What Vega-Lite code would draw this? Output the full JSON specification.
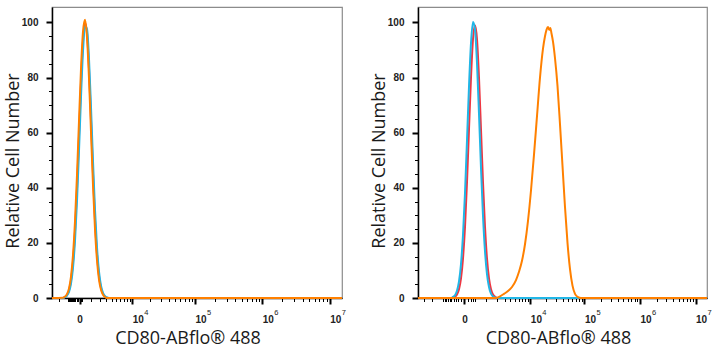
{
  "$schema": "https://vega.github.io/schema/vega-lite/v6.json",
  "background": "white",
  "padding": {"left": 4, "top": 6, "right": 0, "bottom": 0},
  "spacing": 23,
  "config": {
    "view": {"stroke": "#8c8c8c", "strokeWidth": 1.2},
    "axis": {"grid": false, "domainColor": "#000", "domainWidth": 1.5, "tickColor": "#000", "labelColor": "#222", "labelFont": "Liberation Sans", "labelFontSize": 10, "labelFontWeight": "bold", "titleFont": "Open Sans", "titleFontSize": 18, "titleFontWeight": "normal", "titleColor": "#1a1a1a", "labelFlush": false, "labelOverlap": false},
    "line": {"strokeWidth": 2, "interpolate": "monotone"}
  },
  "hconcat": [
    {
      "width": 290,
      "height": 291,
      "data": {"values": [
        {"series":"Isotype","x":-3100,"y":0},{"series":"Isotype","x":-1507,"y":0},{"series":"Isotype","x":-1276,"y":0.4},{"series":"Isotype","x":-1061,"y":1.1},{"series":"Isotype","x":-859,"y":2.8},{"series":"Isotype","x":-671,"y":6.4},{"series":"Isotype","x":-495,"y":13.1},{"series":"Isotype","x":-331,"y":24.0},{"series":"Isotype","x":-178,"y":39.6},{"series":"Isotype","x":-34,"y":58.7},{"series":"Isotype","x":105,"y":78.0},{"series":"Isotype","x":253,"y":93.1},{"series":"Isotype","x":412,"y":99.9},{"series":"Isotype","x":582,"y":96.2},{"series":"Isotype","x":764,"y":83.2},{"series":"Isotype","x":958,"y":64.6},{"series":"Isotype","x":1167,"y":45.1},{"series":"Isotype","x":1390,"y":28.2},{"series":"Isotype","x":1628,"y":15.9},{"series":"Isotype","x":1884,"y":8.0},{"series":"Isotype","x":2158,"y":3.6},{"series":"Isotype","x":2451,"y":1.5},{"series":"Isotype","x":2764,"y":0.5},{"series":"Isotype","x":3100,"y":0.1},{"series":"Isotype","x":3459,"y":0},{"series":"Isotype","x":15184000,"y":0},
        {"series":"Blank","x":-3100,"y":0},{"series":"Blank","x":-1507,"y":0},{"series":"Blank","x":-1276,"y":0.3},{"series":"Blank","x":-1061,"y":0.9},{"series":"Blank","x":-859,"y":2.2},{"series":"Blank","x":-671,"y":5.2},{"series":"Blank","x":-495,"y":11.0},{"series":"Blank","x":-331,"y":20.8},{"series":"Blank","x":-178,"y":35.1},{"series":"Blank","x":-34,"y":53.5},{"series":"Blank","x":105,"y":73.0},{"series":"Blank","x":253,"y":89.6},{"series":"Blank","x":412,"y":98.6},{"series":"Blank","x":582,"y":97.6},{"series":"Blank","x":764,"y":86.7},{"series":"Blank","x":958,"y":69.2},{"series":"Blank","x":1167,"y":49.6},{"series":"Blank","x":1390,"y":31.9},{"series":"Blank","x":1628,"y":18.4},{"series":"Blank","x":1884,"y":9.6},{"series":"Blank","x":2158,"y":4.5},{"series":"Blank","x":2451,"y":1.9},{"series":"Blank","x":2764,"y":0.7},{"series":"Blank","x":3100,"y":0.2},{"series":"Blank","x":3459,"y":0},{"series":"Blank","x":15184000,"y":0},
        {"series":"CD80","x":-3100,"y":0},{"series":"CD80","x":-1507,"y":0.1},{"series":"CD80","x":-1276,"y":0.5},{"series":"CD80","x":-1061,"y":1.4},{"series":"CD80","x":-859,"y":3.5},{"series":"CD80","x":-671,"y":7.8},{"series":"CD80","x":-495,"y":15.6},{"series":"CD80","x":-331,"y":27.8},{"series":"CD80","x":-178,"y":44.6},{"series":"CD80","x":-34,"y":64.3},{"series":"CD80","x":105,"y":83.2},{"series":"CD80","x":253,"y":96.7},{"series":"CD80","x":412,"y":101},{"series":"CD80","x":582,"y":94.6},{"series":"CD80","x":764,"y":79.7},{"series":"CD80","x":958,"y":60.3},{"series":"CD80","x":1167,"y":40.9},{"series":"CD80","x":1390,"y":25.0},{"series":"CD80","x":1628,"y":13.7},{"series":"CD80","x":1884,"y":6.7},{"series":"CD80","x":2158,"y":3.0},{"series":"CD80","x":2451,"y":1.2},{"series":"CD80","x":2764,"y":0.4},{"series":"CD80","x":3100,"y":0},{"series":"CD80","x":15184000,"y":0}
      ]},
      "resolve": {"axis": {"x": "independent", "y": "independent"}},
      "layer": [
        {
          "transform": [{"filter": "datum.series === 'Isotype'"}],
          "mark": "line",
          "encoding": {
            "x": {"field": "x", "type": "quantitative",
              "scale": {"type": "symlog", "constant": 2000, "domain": [-3100, 15184000], "nice": false, "zero": false},
              "axis": {"orient": "bottom",
                "values": [-2000,-1000,-900,-800,-700,-600,-500,-400,-300,-200,-100,0,100,200,1000,2000,3000,4000,5000,6000,7000,8000,9000,10000,20000,30000,40000,50000,60000,70000,80000,90000,100000,200000,300000,400000,500000,600000,700000,800000,900000,1000000,2000000,3000000,4000000,5000000,6000000,7000000,8000000,9000000,10000000],
                "tickSize": {"condition": {"test": "indexof([0,10000,100000,1000000,10000000], datum.value) >= 0", "value": 6}, "value": 3.5},
                "tickWidth": {"condition": {"test": "indexof([0,10000,100000,1000000,10000000], datum.value) >= 0", "value": 2}, "value": 1},
                "labelExpr": "datum.value === 0 ? '0' : (indexof([10000,100000,1000000,10000000], datum.value) >= 0 ? '10' : '')",
                "labelAlign": {"condition": {"test": "datum.value === 0", "value": "center"}, "value": "left"},
                "labelPadding": 10,
                "title": "CD80-ABflo® 488",
                "titleX": 135.5,
                "titleY": 31,
                "titleBaseline": "top"
              }},
            "y": {"field": "y", "type": "quantitative",
              "scale": {"domain": [0, 105.6], "nice": false, "zero": false},
              "axis": {"orient": "left", "values": [0,5,10,15,20,25,30,35,40,45,50,55,60,65,70,75,80,85,90,95,100],
                "tickSize": {"condition": {"test": "datum.value % 20 === 0", "value": 6}, "value": 3.5},
                "tickWidth": {"condition": {"test": "datum.value % 20 === 0", "value": 2}, "value": 1},
                "labelExpr": "datum.value % 20 === 0 ? datum.label : ''",
                "labelPadding": 8,
                "title": "Relative Cell Number",
                "titleX": -29.3,
                "titleY": 153.5
              }},
            "color": {"field": "series", "type": "nominal", "scale": {"domain": ["Blank", "Isotype", "CD80"], "range": ["#21b6e6", "#ee3742", "#ff8000"]}, "legend": null}
          }
        },
        {
          "transform": [{"filter": "datum.series === 'Blank'"}],
          "mark": "line",
          "encoding": {
            "x": {"field": "x", "type": "quantitative",
              "axis": {"orient": "bottom", "values": [10000,100000,1000000,10000000], "ticks": false, "domain": false,
                "labelExpr": "'' + round(log(datum.value) / LN10)", "labelFontSize": 7.5, "labelFontWeight": "normal", "labelAlign": "left", "labelOffset": 11.5, "labelPadding": 10.5, "title": null}},
            "y": {"field": "y", "type": "quantitative", "axis": null},
            "color": {"field": "series", "type": "nominal", "scale": {"domain": ["Blank", "Isotype", "CD80"], "range": ["#21b6e6", "#ee3742", "#ff8000"]}, "legend": null}
          }
        },
        {
          "transform": [{"filter": "datum.series === 'CD80'"}],
          "mark": "line",
          "encoding": {
            "x": {"field": "x", "type": "quantitative", "axis": null},
            "y": {"field": "y", "type": "quantitative", "axis": null},
            "color": {"field": "series", "type": "nominal", "scale": {"domain": ["Blank", "Isotype", "CD80"], "range": ["#21b6e6", "#ee3742", "#ff8000"]}, "legend": null}
          }
        }
      ]
    },
    {
      "width": 289,
      "height": 291,
      "data": {"values": [
        {"series":"Isotype","x":-4099,"y":0},{"series":"Isotype","x":-524,"y":0},{"series":"Isotype","x":-427,"y":0.1},{"series":"Isotype","x":-337,"y":0.5},{"series":"Isotype","x":-255,"y":1.3},{"series":"Isotype","x":-179,"y":3.2},{"series":"Isotype","x":-109,"y":7.1},{"series":"Isotype","x":-45,"y":14.3},{"series":"Isotype","x":15,"y":25.8},{"series":"Isotype","x":76,"y":41.9},{"series":"Isotype","x":143,"y":61.1},{"series":"Isotype","x":216,"y":79.9},{"series":"Isotype","x":295,"y":93.9},{"series":"Isotype","x":381,"y":99},{"series":"Isotype","x":475,"y":93.9},{"series":"Isotype","x":576,"y":79.9},{"series":"Isotype","x":686,"y":61.1},{"series":"Isotype","x":806,"y":41.9},{"series":"Isotype","x":936,"y":25.8},{"series":"Isotype","x":1077,"y":14.3},{"series":"Isotype","x":1231,"y":7.1},{"series":"Isotype","x":1397,"y":3.2},{"series":"Isotype","x":1578,"y":1.3},{"series":"Isotype","x":1775,"y":0.5},{"series":"Isotype","x":1989,"y":0},{"series":"Isotype","x":16064000,"y":0},
        {"series":"Blank","x":-4099,"y":0},{"series":"Blank","x":-524,"y":0},{"series":"Blank","x":-427,"y":0.4},{"series":"Blank","x":-337,"y":1.0},{"series":"Blank","x":-255,"y":2.6},{"series":"Blank","x":-179,"y":6.0},{"series":"Blank","x":-109,"y":12.3},{"series":"Blank","x":-45,"y":22.8},{"series":"Blank","x":15,"y":38.1},{"series":"Blank","x":76,"y":57.0},{"series":"Blank","x":143,"y":76.6},{"series":"Blank","x":216,"y":92.4},{"series":"Blank","x":295,"y":100.2},{"series":"Blank","x":381,"y":97.5},{"series":"Blank","x":475,"y":85.2},{"series":"Blank","x":576,"y":66.9},{"series":"Blank","x":686,"y":47.2},{"series":"Blank","x":806,"y":29.9},{"series":"Blank","x":936,"y":17.0},{"series":"Blank","x":1077,"y":8.7},{"series":"Blank","x":1231,"y":4.0},{"series":"Blank","x":1397,"y":1.6},{"series":"Blank","x":1578,"y":0.6},{"series":"Blank","x":1775,"y":0.2},{"series":"Blank","x":1989,"y":0},{"series":"Blank","x":16064000,"y":0},
        {"series":"CD80","x":-4099,"y":0},{"series":"CD80","x":1880,"y":0},{"series":"CD80","x":2344,"y":0.6},{"series":"CD80","x":2893,"y":1.5},{"series":"CD80","x":3540,"y":2.5},{"series":"CD80","x":4304,"y":4.0},{"series":"CD80","x":5205,"y":6.5},{"series":"CD80","x":5986,"y":9.5},{"series":"CD80","x":6871,"y":13.5},{"series":"CD80","x":7872,"y":19.5},{"series":"CD80","x":9006,"y":28},{"series":"CD80","x":10289,"y":39},{"series":"CD80","x":11743,"y":52},{"series":"CD80","x":13389,"y":66},{"series":"CD80","x":15253,"y":80},{"series":"CD80","x":17362,"y":90.5},{"series":"CD80","x":18922,"y":95},{"series":"CD80","x":20179,"y":97.3},{"series":"CD80","x":21518,"y":98.3},{"series":"CD80","x":22648,"y":97.3},{"series":"CD80","x":23738,"y":98},{"series":"CD80","x":24983,"y":96},{"series":"CD80","x":26628,"y":93},{"series":"CD80","x":28987,"y":87},{"series":"CD80","x":32225,"y":77},{"series":"CD80","x":35819,"y":63},{"series":"CD80","x":39801,"y":48},{"series":"CD80","x":44218,"y":33},{"series":"CD80","x":49115,"y":20},{"series":"CD80","x":54548,"y":10.5},{"series":"CD80","x":60572,"y":4.5},{"series":"CD80","x":67260,"y":1.5},{"series":"CD80","x":76248,"y":0.3},{"series":"CD80","x":86423,"y":0},{"series":"CD80","x":16064000,"y":0}
      ]},
      "resolve": {"axis": {"x": "independent", "y": "independent"}},
      "layer": [
        {
          "transform": [{"filter": "datum.series === 'Isotype'"}],
          "mark": "line",
          "encoding": {
            "x": {"field": "x", "type": "quantitative",
              "scale": {"type": "symlog", "constant": 700, "domain": [-4099, 16064000], "nice": false, "zero": false},
              "axis": {"orient": "bottom",
                "values": [-3000,-2000,-1000,-900,-800,-700,-600,-500,-400,-300,-200,-100,0,100,200,300,400,1000,2000,3000,4000,5000,6000,7000,8000,9000,10000,20000,30000,40000,50000,60000,70000,80000,90000,100000,200000,300000,400000,500000,600000,700000,800000,900000,1000000,2000000,3000000,4000000,5000000,6000000,7000000,8000000,9000000,10000000],
                "tickSize": {"condition": {"test": "indexof([0,10000,100000,1000000,10000000], datum.value) >= 0", "value": 6}, "value": 3.5},
                "tickWidth": {"condition": {"test": "indexof([0,10000,100000,1000000,10000000], datum.value) >= 0", "value": 2}, "value": 1},
                "labelExpr": "datum.value === 0 ? '0' : (indexof([10000,100000,1000000,10000000], datum.value) >= 0 ? '10' : '')",
                "labelAlign": {"condition": {"test": "datum.value === 0", "value": "center"}, "value": "left"},
                "labelPadding": 10,
                "title": "CD80-ABflo® 488",
                "titleX": 140,
                "titleY": 31,
                "titleBaseline": "top"
              }},
            "y": {"field": "y", "type": "quantitative",
              "scale": {"domain": [0, 105.6], "nice": false, "zero": false},
              "axis": {"orient": "left", "values": [0,5,10,15,20,25,30,35,40,45,50,55,60,65,70,75,80,85,90,95,100],
                "tickSize": {"condition": {"test": "datum.value % 20 === 0", "value": 6}, "value": 3.5},
                "tickWidth": {"condition": {"test": "datum.value % 20 === 0", "value": 2}, "value": 1},
                "labelExpr": "datum.value % 20 === 0 ? datum.label : ''",
                "labelPadding": 8,
                "title": "Relative Cell Number",
                "titleX": -29.3,
                "titleY": 153.5
              }},
            "color": {"field": "series", "type": "nominal", "scale": {"domain": ["Blank", "Isotype", "CD80"], "range": ["#21b6e6", "#ee3742", "#ff8000"]}, "legend": null}
          }
        },
        {
          "transform": [{"filter": "datum.series === 'Blank'"}],
          "mark": "line",
          "encoding": {
            "x": {"field": "x", "type": "quantitative",
              "axis": {"orient": "bottom", "values": [10000,100000,1000000,10000000], "ticks": false, "domain": false,
                "labelExpr": "'' + round(log(datum.value) / LN10)", "labelFontSize": 7.5, "labelFontWeight": "normal", "labelAlign": "left", "labelOffset": 11.5, "labelPadding": 10.5, "title": null}},
            "y": {"field": "y", "type": "quantitative", "axis": null},
            "color": {"field": "series", "type": "nominal", "scale": {"domain": ["Blank", "Isotype", "CD80"], "range": ["#21b6e6", "#ee3742", "#ff8000"]}, "legend": null}
          }
        },
        {
          "transform": [{"filter": "datum.series === 'CD80'"}],
          "mark": "line",
          "encoding": {
            "x": {"field": "x", "type": "quantitative", "axis": null},
            "y": {"field": "y", "type": "quantitative", "axis": null},
            "color": {"field": "series", "type": "nominal", "scale": {"domain": ["Blank", "Isotype", "CD80"], "range": ["#21b6e6", "#ee3742", "#ff8000"]}, "legend": null}
          }
        }
      ]
    }
  ]
}
